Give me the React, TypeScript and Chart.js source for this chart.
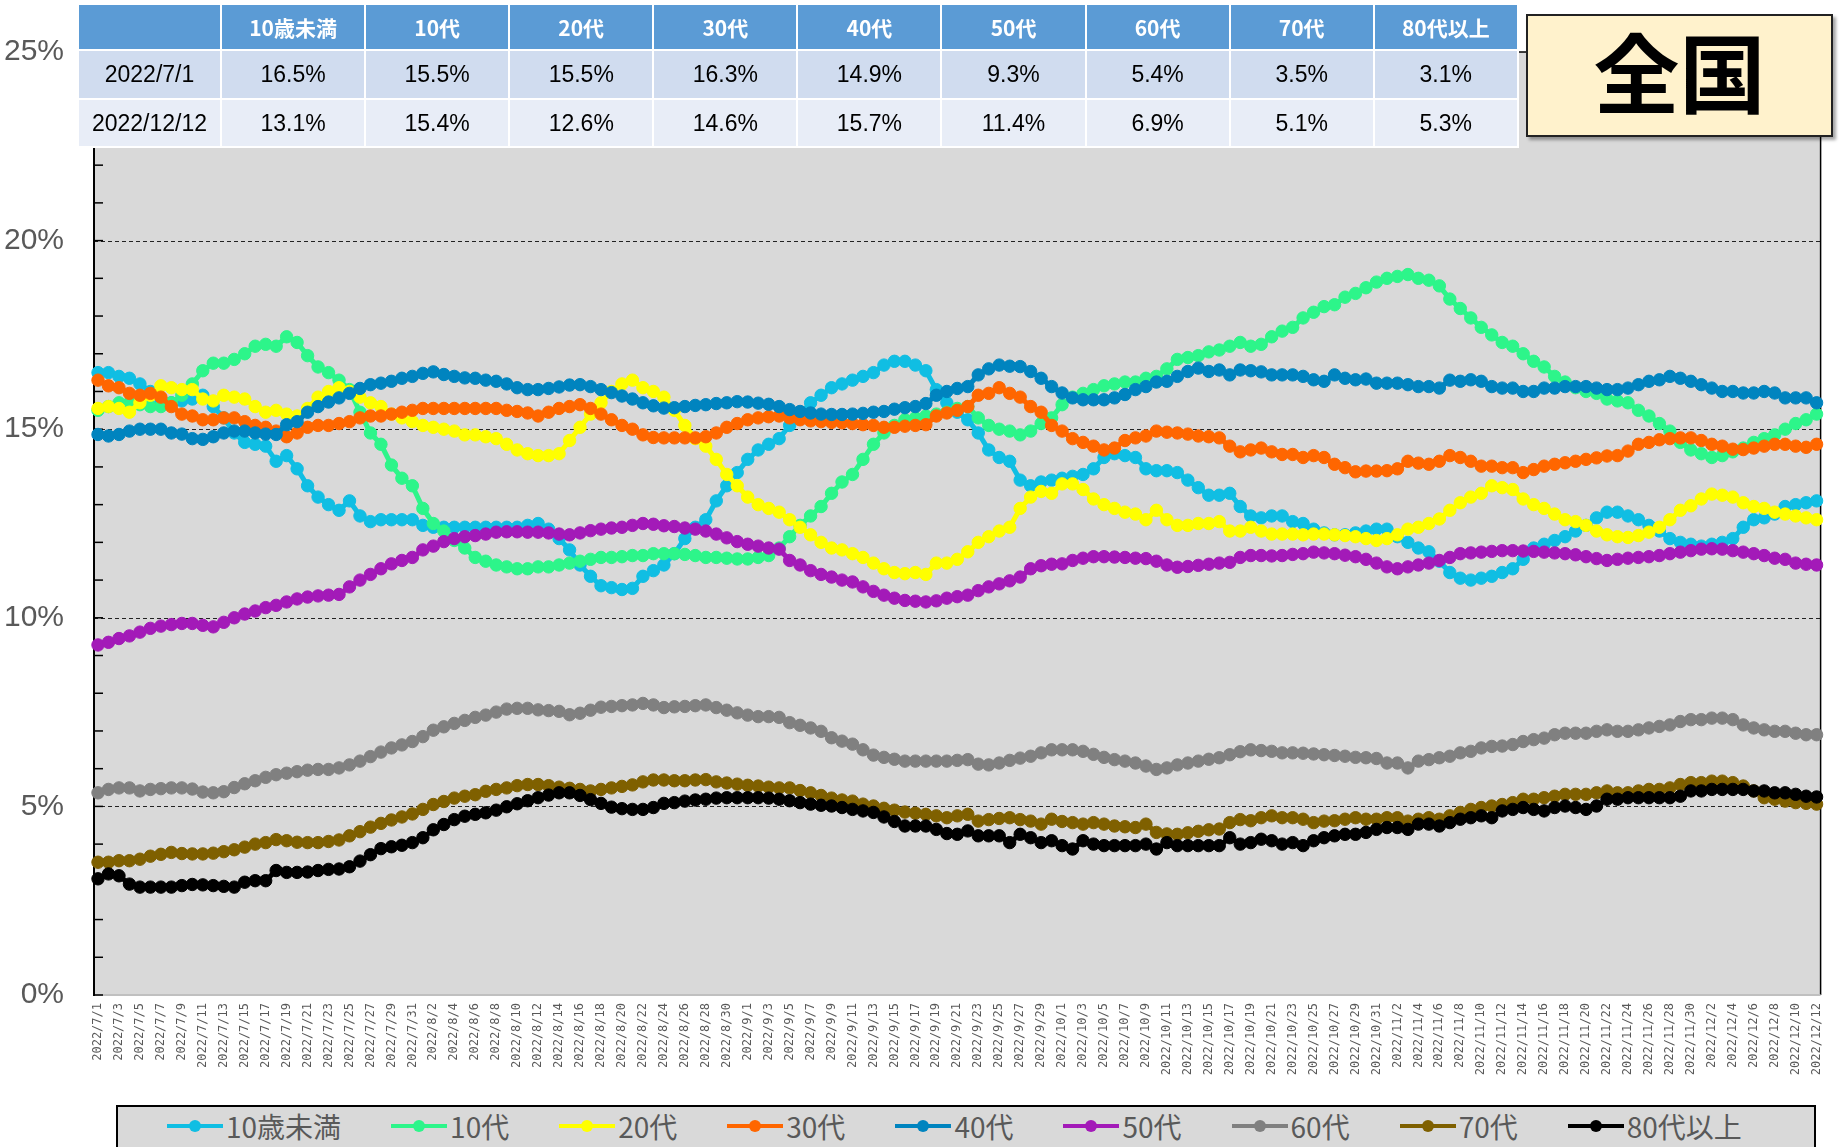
import React, { useEffect, useRef } from 'react';
import { Chart, registerables } from 'chart.js';

Chart.register(...registerables);

// ---- categories ----
const monthDays: [number, number][] = [[7, 31], [8, 31], [9, 30], [10, 31], [11, 30], [12, 12]];
const dateLabels: string[] = [];
for (const [m, n] of monthDays) for (let d = 1; d <= n; d++) dateLabels.push(`2022/${m}/${d}`);

const seriesNames = ['10歳未満', '10代', '20代', '30代', '40代', '50代', '60代', '70代', '80代以上'];
const seriesColors = ['#10BEE3', '#2DF58A', '#FFFF00', '#FF6600', '#0084BF', '#A31AB8', '#808080', '#7F6000', '#000000'];

// ---- series values (%) ----
const under10 = [
  16.5, 16.5, 16.4, 16.35, 16.2, 16.0, 15.7, 15.7, 15.75, 15.8,
  15.9, 15.6, 15.3, 14.9, 14.65, 14.6, 14.55, 14.15, 14.3, 13.95,
  13.5, 13.2, 13.0, 12.85, 13.1, 12.7, 12.55, 12.6, 12.6, 12.6,
  12.6, 12.45, 12.4, 12.4, 12.4, 12.4, 12.4, 12.4, 12.4, 12.4,
  12.4, 12.45, 12.5, 12.35, 12.1, 11.8, 11.4, 11.1, 10.85, 10.8,
  10.75, 10.78, 11.1, 11.25, 11.4, 11.7, 12.1, 12.4, 12.6, 13.1,
  13.5, 13.85, 14.2, 14.45, 14.6, 14.75, 15.1, 15.4, 15.7, 15.9,
  16.1, 16.2, 16.3, 16.4, 16.5, 16.7, 16.8, 16.8, 16.7, 16.55,
  16.05, 15.7, 15.45, 15.25, 14.9, 14.45, 14.25, 14.15, 13.65, 13.5,
  13.6, 13.65, 13.7, 13.75, 13.8, 13.95, 14.25, 14.35, 14.3, 14.25,
  13.95, 13.9, 13.9, 13.85, 13.65, 13.45, 13.25, 13.25, 13.3, 12.95,
  12.7, 12.65, 12.7, 12.7, 12.55, 12.5, 12.35, 12.25, 12.2, 12.2,
  12.25, 12.3, 12.35, 12.35, 12.15, 12.0, 11.85, 11.75, 11.5, 11.2,
  11.05, 11.0, 11.05, 11.1, 11.2, 11.3, 11.55, 11.85, 11.95, 12.05,
  12.15, 12.3, 12.45, 12.65, 12.8, 12.8, 12.7, 12.6, 12.45, 12.3,
  12.1, 12.0, 11.95, 11.9, 11.95, 12.0, 12.1, 12.4, 12.6, 12.65,
  12.75, 12.95, 13.0, 13.05, 13.1,
];
const teens = [
  15.5, 15.6, 15.7, 15.7, 15.65, 15.6, 15.6, 15.7, 15.9, 16.2,
  16.55, 16.75, 16.75, 16.85, 17.0, 17.2, 17.25, 17.2, 17.45, 17.3,
  16.95, 16.65, 16.5, 16.3, 16.05, 15.45, 14.9, 14.6, 14.05, 13.7,
  13.5, 12.9, 12.5, 12.3, 12.05, 11.85, 11.6, 11.5, 11.4, 11.35,
  11.3, 11.3, 11.35, 11.35, 11.4, 11.45, 11.5, 11.55, 11.6, 11.6,
  11.62, 11.65, 11.65, 11.7, 11.7, 11.7, 11.68, 11.65, 11.6, 11.6,
  11.58, 11.56, 11.56, 11.6, 11.65, 11.85, 12.15, 12.45, 12.7, 12.95,
  13.3, 13.6, 13.8, 14.2, 14.6, 14.9, 15.1, 15.25, 15.3, 15.35,
  15.4, 15.45, 15.55, 15.6, 15.3, 15.1, 15.0, 14.95, 14.85, 14.95,
  15.15, 15.3, 15.65, 15.85, 15.95, 16.05, 16.15, 16.2, 16.25, 16.25,
  16.35, 16.4, 16.6, 16.85, 16.9, 16.95, 17.05, 17.1, 17.2, 17.3,
  17.2, 17.25, 17.45, 17.6, 17.7, 17.95, 18.1, 18.25, 18.3, 18.5,
  18.6, 18.75, 18.9, 19.0, 19.05, 19.1, 19.0, 18.95, 18.8, 18.45,
  18.2, 17.95, 17.7, 17.5, 17.3, 17.2, 17.0, 16.8, 16.65, 16.4,
  16.25, 16.1, 16.0, 15.95, 15.8, 15.75, 15.7, 15.5, 15.35, 15.15,
  14.95, 14.65, 14.45, 14.35, 14.25, 14.3, 14.4, 14.5, 14.65, 14.75,
  14.85, 15.0, 15.15, 15.25, 15.4,
];
const twenties = [
  15.55, 15.6, 15.55, 15.45, 15.7, 15.9, 16.15, 16.1, 16.05, 16.05,
  15.8, 15.75, 15.9, 15.85, 15.8, 15.6, 15.45, 15.5, 15.4, 15.35,
  15.55, 15.85, 16.0, 16.1, 16.0, 15.85, 15.7, 15.6, 15.4, 15.3,
  15.2, 15.1, 15.05, 15.0, 14.95, 14.85, 14.85, 14.8, 14.75, 14.6,
  14.45, 14.35, 14.3, 14.3, 14.35, 14.7, 15.05, 15.4, 15.7, 16.0,
  16.2, 16.3, 16.1, 16.0, 15.85, 15.5, 15.1, 14.75, 14.55, 14.2,
  13.8, 13.5, 13.2, 13.0, 12.9, 12.8, 12.6, 12.4, 12.2, 12.0,
  11.85, 11.8, 11.7, 11.6, 11.45, 11.3, 11.2, 11.17, 11.2, 11.15,
  11.45, 11.45, 11.55, 11.75, 12.0, 12.15, 12.3, 12.4, 12.9, 13.2,
  13.35, 13.3, 13.55, 13.55, 13.4, 13.15, 13.0, 12.9, 12.8, 12.75,
  12.6, 12.85, 12.6, 12.45, 12.45, 12.5, 12.5, 12.55, 12.3, 12.3,
  12.4, 12.3, 12.22, 12.22, 12.22, 12.2, 12.22, 12.22, 12.2, 12.18,
  12.15, 12.1, 12.05, 12.1, 12.2, 12.35, 12.4, 12.5, 12.62, 12.85,
  13.05, 13.2, 13.3, 13.5, 13.45, 13.4, 13.15, 13.0, 12.9, 12.75,
  12.6, 12.55, 12.45, 12.3, 12.2, 12.15, 12.13, 12.18, 12.27, 12.4,
  12.6, 12.85, 12.97, 13.15, 13.28, 13.25, 13.2, 13.05, 12.95, 12.9,
  12.8, 12.75, 12.7, 12.65, 12.6,
];
const thirties = [
  16.3, 16.15, 16.1, 15.95, 15.9, 15.95, 15.85, 15.6, 15.4, 15.35,
  15.25, 15.25, 15.3, 15.3, 15.2, 15.1, 15.05, 14.95, 14.8, 14.9,
  15.05, 15.1, 15.1, 15.15, 15.2, 15.3, 15.35, 15.35, 15.4, 15.45,
  15.5, 15.55, 15.55, 15.55, 15.55, 15.55, 15.55, 15.55, 15.55, 15.5,
  15.47, 15.43, 15.35, 15.45, 15.55, 15.6, 15.65, 15.55, 15.4, 15.25,
  15.1, 15.0, 14.85, 14.78, 14.77, 14.77, 14.77, 14.77, 14.8, 14.9,
  15.05, 15.15, 15.25, 15.3, 15.33, 15.35, 15.3, 15.25, 15.22, 15.2,
  15.18, 15.17, 15.15, 15.12, 15.1, 15.05, 15.05, 15.08, 15.1, 15.12,
  15.35, 15.43, 15.5, 15.6, 15.9, 15.95, 16.1, 15.95, 15.85, 15.6,
  15.45, 15.1, 14.95, 14.75, 14.65, 14.55, 14.45, 14.5, 14.7, 14.77,
  14.82, 14.95, 14.92, 14.9, 14.87, 14.82, 14.8, 14.77, 14.55, 14.4,
  14.45, 14.5, 14.4, 14.33, 14.33, 14.25, 14.3, 14.25, 14.07, 13.98,
  13.87, 13.89, 13.89, 13.9, 13.95, 14.15, 14.1, 14.07, 14.15, 14.3,
  14.25, 14.15, 14.02, 14.02, 13.98, 13.98, 13.85, 13.93, 14.02, 14.07,
  14.11, 14.15, 14.2, 14.24, 14.29, 14.3, 14.42, 14.6, 14.65, 14.72,
  14.75, 14.77, 14.77, 14.7, 14.6, 14.55, 14.47, 14.46, 14.5, 14.55,
  14.6, 14.6, 14.55, 14.52, 14.6,
];
const forties = [
  14.86, 14.82, 14.86, 14.95, 15.0, 15.0, 15.0, 14.9, 14.87, 14.75,
  14.73, 14.8, 14.9, 14.95, 14.95, 14.9, 14.87, 14.86, 15.12, 15.2,
  15.45, 15.6, 15.72, 15.83, 15.95, 16.08, 16.18, 16.22, 16.27, 16.35,
  16.4, 16.48, 16.52, 16.45, 16.4, 16.36, 16.35, 16.3, 16.27, 16.2,
  16.1, 16.05, 16.05, 16.08, 16.12, 16.17, 16.18, 16.13, 16.05, 15.97,
  15.88, 15.8, 15.7, 15.62, 15.56, 15.57, 15.6, 15.63, 15.65, 15.68,
  15.7, 15.73, 15.72, 15.69, 15.66, 15.6, 15.52, 15.47, 15.43, 15.4,
  15.39, 15.39, 15.4, 15.42, 15.45, 15.47, 15.53, 15.57, 15.6, 15.68,
  15.9, 16.0, 16.08, 16.13, 16.44, 16.6, 16.7, 16.67, 16.66, 16.53,
  16.35, 16.13, 15.96, 15.83, 15.78, 15.78, 15.78, 15.83, 15.92, 16.05,
  16.13, 16.25, 16.27, 16.4, 16.53, 16.62, 16.53, 16.57, 16.44, 16.57,
  16.55, 16.52, 16.44, 16.44, 16.44, 16.4, 16.31, 16.27, 16.44, 16.35,
  16.31, 16.33, 16.22, 16.22, 16.22, 16.18, 16.13, 16.13, 16.09, 16.3,
  16.27, 16.31, 16.27, 16.13, 16.09, 16.09, 16.0, 16.0, 16.09, 16.09,
  16.13, 16.13, 16.13, 16.09, 16.05, 16.05, 16.09, 16.18, 16.27, 16.31,
  16.4, 16.35, 16.27, 16.18, 16.09, 16.0, 16.0, 15.96, 15.96, 16.0,
  15.96, 15.83, 15.83, 15.83, 15.7,
];
const fifties = [
  9.28, 9.35, 9.45, 9.52, 9.62, 9.72, 9.78, 9.82, 9.85, 9.85,
  9.8, 9.76, 9.88, 10.0, 10.1, 10.18, 10.27, 10.33, 10.42, 10.5,
  10.55, 10.58, 10.6, 10.62, 10.82, 11.0, 11.15, 11.3, 11.43, 11.52,
  11.6, 11.8, 11.9, 12.02, 12.1, 12.15, 12.18, 12.22, 12.27, 12.28,
  12.28, 12.27, 12.27, 12.25, 12.22, 12.2, 12.25, 12.31, 12.35, 12.38,
  12.4, 12.45, 12.5, 12.48, 12.44, 12.42, 12.38, 12.35, 12.3, 12.22,
  12.12, 12.02, 11.95, 11.9, 11.85, 11.82, 11.52, 11.4, 11.25, 11.15,
  11.08, 11.0, 10.95, 10.82, 10.7, 10.6, 10.52, 10.46, 10.44, 10.42,
  10.45, 10.52, 10.56, 10.6, 10.72, 10.82, 10.9, 10.98, 11.08, 11.3,
  11.38, 11.42, 11.43, 11.52, 11.58, 11.62, 11.62, 11.61, 11.6, 11.58,
  11.57, 11.5, 11.4, 11.34, 11.36, 11.39, 11.42, 11.45, 11.47, 11.6,
  11.65, 11.65, 11.64, 11.65, 11.68, 11.7, 11.74, 11.72, 11.7, 11.66,
  11.62, 11.55, 11.45, 11.35, 11.3, 11.35, 11.4, 11.45, 11.52, 11.6,
  11.7, 11.72, 11.74, 11.76, 11.78, 11.78, 11.77, 11.76, 11.74, 11.72,
  11.7, 11.67, 11.62, 11.57, 11.52, 11.55, 11.58, 11.6, 11.62, 11.65,
  11.7, 11.74, 11.78, 11.82, 11.83, 11.82, 11.78, 11.74, 11.7, 11.65,
  11.58, 11.55, 11.45, 11.42, 11.4,
];
const sixties = [
  5.36, 5.45, 5.49, 5.49, 5.41, 5.45, 5.47, 5.49, 5.49, 5.46,
  5.38, 5.36, 5.39, 5.5, 5.6, 5.68, 5.77, 5.84, 5.88, 5.92,
  5.96, 5.98, 5.98, 6.02, 6.1, 6.2, 6.32, 6.44, 6.55, 6.63,
  6.72, 6.85, 7.02, 7.11, 7.2, 7.28, 7.36, 7.42, 7.5, 7.58,
  7.6, 7.6, 7.56, 7.54, 7.52, 7.43, 7.47, 7.55, 7.63, 7.65,
  7.67, 7.69, 7.73, 7.69, 7.62, 7.64, 7.65, 7.67, 7.69, 7.62,
  7.55, 7.48, 7.42, 7.38, 7.38, 7.36, 7.22, 7.15, 7.08, 6.99,
  6.82, 6.73, 6.65, 6.5, 6.36, 6.3, 6.25, 6.2, 6.2, 6.2,
  6.2, 6.2, 6.22, 6.24, 6.12, 6.1, 6.15, 6.22, 6.28, 6.33,
  6.42, 6.5, 6.5, 6.5, 6.46, 6.38, 6.3, 6.24, 6.2, 6.15,
  6.07, 5.98, 6.02, 6.1, 6.15, 6.2, 6.25, 6.29, 6.37, 6.45,
  6.5, 6.48, 6.46, 6.42, 6.42, 6.41, 6.39, 6.37, 6.35, 6.33,
  6.3, 6.29, 6.27, 6.15, 6.15, 6.02, 6.2, 6.24, 6.29, 6.33,
  6.42, 6.46, 6.55, 6.59, 6.6, 6.64, 6.72, 6.77, 6.81, 6.9,
  6.94, 6.94, 6.94, 6.99, 7.03, 6.99, 6.99, 7.03, 7.08, 7.12,
  7.16, 7.25, 7.3, 7.3, 7.34, 7.34, 7.3, 7.16, 7.08, 7.03,
  6.99, 6.99, 6.94, 6.9, 6.9,
];
const seventies = [
  3.52, 3.52, 3.56, 3.56, 3.6, 3.68, 3.73, 3.78, 3.75, 3.74,
  3.74, 3.76, 3.8, 3.85, 3.92, 4.0, 4.04, 4.12, 4.09, 4.05,
  4.04, 4.04, 4.07, 4.11, 4.22, 4.33, 4.45, 4.55, 4.64, 4.72,
  4.8, 4.92, 5.05, 5.13, 5.22, 5.27, 5.31, 5.4, 5.45, 5.49,
  5.55, 5.58, 5.58, 5.55, 5.51, 5.48, 5.45, 5.41, 5.45, 5.49,
  5.53, 5.57, 5.65, 5.7, 5.7, 5.68, 5.68, 5.7, 5.71, 5.65,
  5.62, 5.59, 5.56, 5.54, 5.51, 5.49, 5.49, 5.42, 5.36, 5.29,
  5.22, 5.17, 5.14, 5.06, 5.01, 4.95, 4.9, 4.85, 4.82, 4.79,
  4.75, 4.7, 4.75, 4.79, 4.61, 4.65, 4.68, 4.7, 4.65, 4.61,
  4.53, 4.66, 4.6, 4.57, 4.53, 4.57, 4.53, 4.48, 4.46, 4.44,
  4.53, 4.31, 4.27, 4.26, 4.3, 4.34, 4.38, 4.4, 4.57, 4.65,
  4.62, 4.7, 4.75, 4.7, 4.7, 4.66, 4.57, 4.61, 4.62, 4.66,
  4.7, 4.66, 4.66, 4.7, 4.7, 4.61, 4.66, 4.7, 4.66, 4.75,
  4.84, 4.92, 4.97, 5.01, 5.05, 5.1, 5.19, 5.19, 5.23, 5.27,
  5.32, 5.32, 5.32, 5.36, 5.41, 5.36, 5.36, 5.41, 5.45, 5.45,
  5.49, 5.58, 5.63, 5.63, 5.67, 5.67, 5.63, 5.54, 5.41, 5.23,
  5.19, 5.14, 5.1, 5.08, 5.06,
];
const over80 = [
  3.08, 3.21, 3.16, 2.94, 2.86, 2.86, 2.86, 2.86, 2.9, 2.93,
  2.92, 2.9, 2.88, 2.86, 2.99, 3.03, 3.03, 3.3, 3.25, 3.25,
  3.26, 3.3, 3.33, 3.34, 3.4, 3.55, 3.72, 3.88, 3.93, 3.97,
  4.04, 4.17, 4.38, 4.52, 4.65, 4.74, 4.79, 4.83, 4.9, 4.99,
  5.07, 5.15, 5.23, 5.3, 5.36, 5.36, 5.29, 5.18, 5.08, 4.98,
  4.94, 4.92, 4.92, 4.97, 5.08, 5.1, 5.14, 5.17, 5.19, 5.22,
  5.23, 5.23, 5.23, 5.23, 5.22, 5.19, 5.15, 5.1, 5.06, 5.03,
  5.01, 4.97, 4.92, 4.88, 4.84, 4.72, 4.6, 4.48, 4.48, 4.48,
  4.39, 4.28, 4.26, 4.35, 4.22, 4.22, 4.22, 4.04, 4.26, 4.17,
  4.04, 4.09, 3.96, 3.87, 4.09, 4.0, 3.96, 3.96, 3.96, 3.96,
  4.0, 3.87, 4.04, 3.96, 3.96, 3.96, 3.96, 3.96, 4.17, 4.0,
  4.04, 4.13, 4.09, 4.0, 4.04, 3.96, 4.09, 4.17, 4.22, 4.26,
  4.26, 4.31, 4.39, 4.44, 4.44, 4.39, 4.53, 4.53, 4.48, 4.57,
  4.66, 4.7, 4.75, 4.7, 4.88, 4.92, 4.97, 4.92, 4.88, 4.97,
  5.01, 4.97, 4.92, 5.01, 5.19, 5.19, 5.23, 5.23, 5.23, 5.23,
  5.23, 5.27, 5.41, 5.41, 5.45, 5.45, 5.45, 5.45, 5.41, 5.41,
  5.36, 5.36, 5.32, 5.27, 5.25,
];
const seriesData = [under10, teens, twenties, thirties, forties, fifties, sixties, seventies, over80];

// ---- table ----
const tableDates = ['2022/7/1', '2022/12/12'];
const tableFirst = ['16.5%', '15.5%', '15.5%', '16.3%', '14.9%', '9.3%', '5.4%', '3.5%', '3.1%'];
const tableLast = ['13.1%', '15.4%', '12.6%', '14.6%', '15.7%', '11.4%', '6.9%', '5.1%', '5.3%'];

const Y_MIN = 0;
const Y_MAX = 25;

const plotFrame = {
  id: 'plotFrame',
  beforeDatasetsDraw(chart: any) {
    const { ctx, chartArea: a, scales } = chart;
    const y = scales.y;
    const fx0 = a.left - 4;
    const fx1 = a.right + 4;
    ctx.save();
    ctx.fillStyle = '#d9d9d9';
    ctx.fillRect(fx0, a.top, fx1 - fx0, a.bottom - a.top);
    // dashed grid at 5% steps
    ctx.strokeStyle = '#222';
    ctx.lineWidth = 1;
    ctx.setLineDash([4, 3]);
    for (let v = 5; v < Y_MAX; v += 5) {
      const py = Math.round(y.getPixelForValue(v)) + 0.5;
      ctx.beginPath();
      ctx.moveTo(fx0, py);
      ctx.lineTo(fx1, py);
      ctx.stroke();
    }
    ctx.setLineDash([]);
    // top and right frame
    ctx.strokeStyle = '#000';
    ctx.lineWidth = 1.5;
    ctx.beginPath();
    ctx.moveTo(fx0, a.top);
    ctx.lineTo(fx1, a.top);
    ctx.lineTo(fx1, a.bottom);
    ctx.stroke();
    // bottom line
    ctx.strokeStyle = '#c0c0c0';
    ctx.lineWidth = 2;
    ctx.beginPath();
    ctx.moveTo(fx0, a.bottom);
    ctx.lineTo(fx1, a.bottom);
    ctx.stroke();
    // left axis line and inward ticks
    ctx.strokeStyle = '#000';
    ctx.lineWidth = 2;
    ctx.beginPath();
    ctx.moveTo(fx0, a.top);
    ctx.lineTo(fx0, a.bottom + 1);
    ctx.stroke();
    ctx.lineWidth = 1.5;
    for (let v = Y_MIN; v <= Y_MAX; v += 1) {
      const py = y.getPixelForValue(v);
      ctx.beginPath();
      ctx.moveTo(fx0, py);
      ctx.lineTo(fx0 + 9, py);
      ctx.stroke();
    }
    ctx.restore();
  },
};

export default function App() {
  const ref = useRef<HTMLCanvasElement>(null);

  useEffect(() => {
    const canvas = ref.current;
    if (!canvas) return;
    const chart = new Chart(canvas, {
      type: 'line',
      data: {
        labels: dateLabels,
        datasets: seriesData.map((d, i) => ({
          label: seriesNames[i],
          data: d,
          borderColor: seriesColors[i],
          backgroundColor: seriesColors[i],
          pointBackgroundColor: seriesColors[i],
          pointBorderColor: seriesColors[i],
          pointBorderWidth: 1,
          pointRadius: 6.2,
          borderWidth: 5,
          tension: 0,
          fill: false,
          order: seriesData.length - 1 - i,
        })),
      },
      options: {
        responsive: false,
        animation: false,
        devicePixelRatio: 1,
        events: [],
        layout: { padding: { left: 0, right: 13, top: 48, bottom: 0 } },
        plugins: { legend: { display: false }, tooltip: { enabled: false } },
        scales: {
          x: {
            type: 'category',
            offset: false,
            grid: { display: false, drawTicks: false },
            border: { display: false },
            ticks: {
              autoSkip: false,
              maxRotation: 90,
              minRotation: 90,
              padding: 8,
              color: '#595959',
              font: { family: "'DejaVu Sans Mono', monospace", size: 12 },
              callback: (_v: any, i: number) => (i % 2 === 0 ? dateLabels[i] : ''),
            },
            afterFit: (s: any) => {
              s.height = 152;
            },
          },
          y: {
            min: Y_MIN,
            max: Y_MAX,
            grid: { display: false, drawTicks: false },
            border: { display: false },
            ticks: {
              autoSkip: false,
              stepSize: 1,
              padding: 34,
              color: '#595959',
              font: { family: "'Liberation Sans Narrow', 'Liberation Sans', Arial, sans-serif", size: 30 },
              callback: (v: any) => (Number(v) % 5 === 0 ? `${v}%` : ''),
            },
            afterFit: (s: any) => {
              s.width = 98;
            },
          },
        },
      } as any,
      plugins: [plotFrame],
    });
    return () => chart.destroy();
  }, []);

  const cell: React.CSSProperties = {
    border: '2px solid #ffffff',
    padding: 0,
    textAlign: 'center',
    verticalAlign: 'middle',
  };
  const headCell: React.CSSProperties = {
    ...cell,
    color: '#ffffff',
    fontWeight: 700,
    fontSize: 21,
    fontFamily: "'Noto Sans CJK JP', 'Liberation Sans', sans-serif",
  };
  const bodyCell: React.CSSProperties = {
    ...cell,
    color: '#000000',
    fontSize: 23,
    fontFamily: "'Liberation Sans', Arial, sans-serif",
  };

  return (
    <div
      style={{
        position: 'fixed',
        left: 0,
        top: 0,
        width: 1839,
        height: 1147,
        overflow: 'hidden',
        background: '#ffffff',
      }}
    >
      <canvas ref={ref} width={1839} height={1147} style={{ position: 'absolute', left: 0, top: 0 }} />

      <table
        style={{
          position: 'absolute',
          left: 77,
          top: 3,
          width: 1440,
          borderCollapse: 'collapse',
          tableLayout: 'fixed',
        }}
      >
        <colgroup>
          <col style={{ width: 143 }} />
          {seriesNames.map((n) => (
            <col key={n} style={{ width: 144.1 }} />
          ))}
        </colgroup>
        <tbody>
          <tr style={{ height: 46, background: '#5B9BD5' }}>
            <td style={headCell}></td>
            {seriesNames.map((n) => (
              <td key={n} style={headCell}>
                {n}
              </td>
            ))}
          </tr>
          <tr style={{ height: 49, background: '#D0DCEF' }}>
            <td style={bodyCell}>{tableDates[0]}</td>
            {tableFirst.map((v, i) => (
              <td key={i} style={bodyCell}>
                {v}
              </td>
            ))}
          </tr>
          <tr style={{ height: 48, background: '#E8EDF7' }}>
            <td style={bodyCell}>{tableDates[1]}</td>
            {tableLast.map((v, i) => (
              <td key={i} style={bodyCell}>
                {v}
              </td>
            ))}
          </tr>
        </tbody>
      </table>

      <div
        style={{
          position: 'absolute',
          left: 1526,
          top: 14,
          width: 307,
          height: 123,
          boxSizing: 'border-box',
          background: '#FFF2CC',
          border: '2px solid #222',
          boxShadow: '3px 3px 3px rgba(0,0,0,0.35)',
          display: 'flex',
          alignItems: 'center',
          justifyContent: 'center',
          paddingBottom: 12,
          fontFamily: "'Noto Sans CJK JP', sans-serif",
          fontWeight: 700,
          fontSize: 86,
          color: '#000',
          lineHeight: 1,
        }}
      >
        全国
      </div>

      <div
        style={{
          position: 'absolute',
          left: 116,
          top: 1105,
          width: 1700,
          height: 70,
          boxSizing: 'border-box',
          background: '#D9D9D9',
          border: '2px solid #000',
          display: 'flex',
          alignItems: 'flex-start',
          paddingLeft: 49,
        }}
      >
        {seriesNames.map((n, i) => (
          <div
            key={n}
            style={{
              display: 'flex',
              alignItems: 'center',
              height: 38,
              marginRight: 50,
            }}
          >
            <div style={{ position: 'relative', width: 56, height: 4, background: seriesColors[i], marginRight: 3 }}>
              <div
                style={{
                  position: 'absolute',
                  left: 22,
                  top: -4,
                  width: 12,
                  height: 12,
                  borderRadius: 6,
                  background: seriesColors[i],
                }}
              />
            </div>
            <span
              style={{
                fontFamily: "'Noto Sans CJK JP', sans-serif",
                fontSize: 28,
                color: '#595959',
                lineHeight: 1,
              }}
            >
              {n}
            </span>
          </div>
        ))}
      </div>
    </div>
  );
}
